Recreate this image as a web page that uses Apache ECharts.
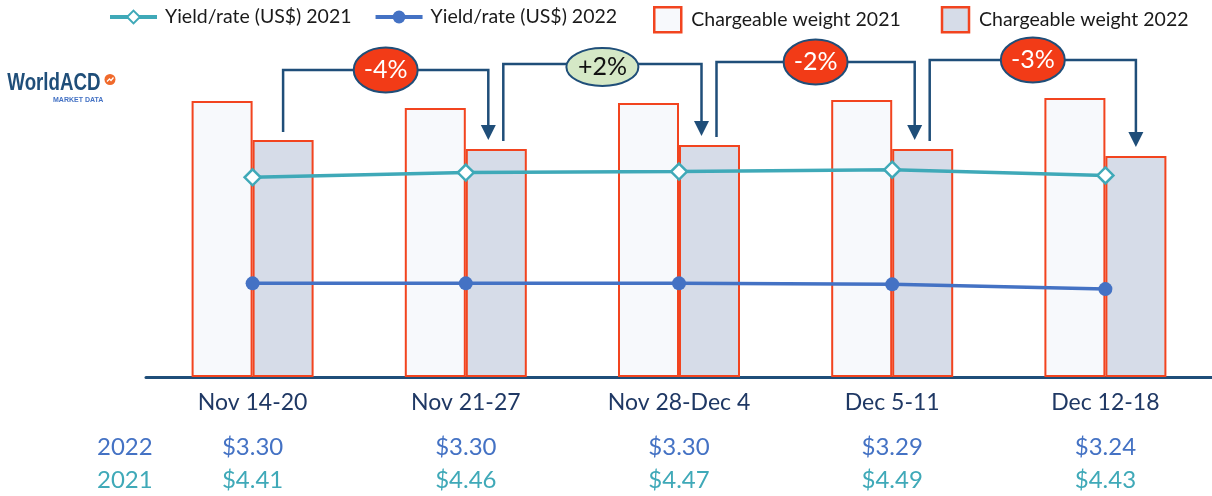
<!DOCTYPE html>
<html>
<head>
<meta charset="utf-8">
<script src="https://cdn.jsdelivr.net/npm/echarts@6/dist/echarts.min.js"></script>
<style>html,body{margin:0;padding:0;background:#fff;}#c{width:1212px;height:496px;}</style>
</head>
<body>
<div id="c"></div>
<script>
// ---- data ----
const categories = ['Nov 14-20', 'Nov 21-27', 'Nov 28-Dec 4', 'Dec 5-11', 'Dec 12-18'];
const weight2021 = [276, 269, 274, 277, 279];
const weight2022 = [237, 228, 232, 228, 221];
const yield2021 = [4.41, 4.46, 4.47, 4.49, 4.43];
const yield2022 = [3.30, 3.30, 3.30, 3.29, 3.24];
const changeLabels = ['-4%', '+2%', '-2%', '-3%'];
const seriesNames = ['Yield/rate (US$) 2021', 'Yield/rate (US$) 2022', 'Chargeable weight 2021', 'Chargeable weight 2022'];
const rowLabels = ['2022', '2021'];

// ---- style ----
const FONT = 'Lato, "Noto Sans", sans-serif';
const NAVY = '#1F4E79';
const TEAL = '#3FA9B8';
const BLUE = '#4472C4';
const RED = '#F2441F';
const BAR_W = 61;
const annotLineY = [70, 64, 62, 60];

const chart = echarts.init(document.getElementById('c'), null, {renderer: 'canvas'});

const option = {
  animation: false,
  backgroundColor: '#ffffff',
  textStyle: {fontFamily: FONT},
  grid: {left: 146, right: 0, top: 77, bottom: 119, containLabel: false},
  legend: [
    {
      data: [
        {name: seriesNames[0], lineStyle: {color: TEAL, width: 4}, itemStyle: {color: '#fff', borderColor: TEAL, borderWidth: 2}},
        {name: seriesNames[1], lineStyle: {color: BLUE, width: 4}, itemStyle: {color: BLUE}}
      ],
      left: 103, top: 2, itemWidth: 47, itemHeight: 16, itemGap: 22,
      textStyle: {fontFamily: FONT, fontSize: 19.5, color: '#1a1a1a', padding: [0, 0, 0, 3]}
    },
    {
      data: [
        {name: seriesNames[2], itemStyle: {color: '#F7F9FC', borderColor: RED, borderWidth: 2.5}},
        {name: seriesNames[3], itemStyle: {color: '#D6DCE8', borderColor: RED, borderWidth: 2.5}}
      ],
      left: 648, top: 1, itemWidth: 27, itemHeight: 25, itemGap: 40,
      icon: 'rect',
      textStyle: {fontFamily: FONT, fontSize: 19.5, color: '#1a1a1a', padding: [0, 0, 0, 5]}
    }
  ],
  xAxis: {
    type: 'category',
    data: categories,
    boundaryGap: true,
    axisLine: {show: true, lineStyle: {color: NAVY, width: 3}},
    axisTick: {show: false},
    axisLabel: {
      margin: 12,
      interval: 0,
      formatter: function (val, idx) {
        return '{c|' + val + '}\n{s| }\n{a|$' + yield2022[idx].toFixed(2) + '}\n{b|$' + yield2021[idx].toFixed(2) + '}';
      },
      rich: {
        c: {fontFamily: FONT, fontSize: 23, color: '#1F3864', lineHeight: 28},
        s: {fontSize: 10, lineHeight: 13.5},
        a: {fontFamily: FONT, fontSize: 24, color: BLUE, lineHeight: 33},
        b: {fontFamily: FONT, fontSize: 24, color: TEAL, lineHeight: 33}
      }
    }
  },
  yAxis: [
    {type: 'value', min: 0, max: 300, show: false, splitLine: {show: false}},
    {type: 'value', min: 2.32, max: 5.46, show: false, splitLine: {show: false}}
  ],
  series: [
    {
      name: seriesNames[2], type: 'bar', yAxisIndex: 0, data: weight2021,
      barWidth: BAR_W, barGap: '0%',
      itemStyle: {color: '#F7F9FC', borderColor: RED, borderWidth: 2}, z: 2
    },
    {
      name: seriesNames[3], type: 'bar', yAxisIndex: 0, data: weight2022,
      barWidth: BAR_W, barGap: '0%',
      itemStyle: {color: '#D6DCE8', borderColor: RED, borderWidth: 2}, z: 2
    },
    {
      name: seriesNames[0], type: 'line', yAxisIndex: 1, data: yield2021,
      symbol: 'diamond', symbolSize: 16, showAllSymbol: true,
      lineStyle: {color: TEAL, width: 3.5},
      itemStyle: {color: '#ffffff', borderColor: TEAL, borderWidth: 2.5}, z: 5
    },
    {
      name: seriesNames[1], type: 'line', yAxisIndex: 1, data: yield2022,
      symbol: 'circle', symbolSize: 14,
      lineStyle: {color: BLUE, width: 3.5},
      itemStyle: {color: BLUE}, z: 5
    }
  ]
};
chart.setOption(option);

// ---- graphics computed from the axes ----
const els = [];
// logo
els.push({type: 'text', x: 6, y: 83, scaleX: 0.78, originX: 6, originY: 83,
  style: {text: 'WorldACD', font: 'bold 24px "Liberation Sans", Arial, sans-serif', fill: NAVY, textVerticalAlign: 'middle'}});
els.push({type: 'circle', shape: {cx: 110, cy: 79.5, r: 5.5}, style: {fill: '#F06A2C'}});
els.push({type: 'polyline', shape: {points: [[107, 81.5], [109.5, 79], [111, 80.5], [113.5, 77.5]]}, style: {stroke: '#fff', lineWidth: 1.3, fill: null}});
els.push({type: 'text', x: 53, y: 100, style: {text: 'MARKET DATA', font: 'bold 7px "Liberation Sans", Arial, sans-serif', fill: BLUE, textVerticalAlign: 'middle'}});
// row labels
els.push({type: 'text', x: 97, y: 447, style: {text: rowLabels[0], font: '24px ' + FONT, fill: BLUE, textVerticalAlign: 'middle'}});
els.push({type: 'text', x: 97, y: 480, style: {text: rowLabels[1], font: '24px ' + FONT, fill: TEAL, textVerticalAlign: 'middle'}});

function barCenter(i, v) {
  const p = chart.convertToPixel({xAxisIndex: 0, yAxisIndex: 0}, [i, v]);
  return [p[0] + BAR_W / 2, p[1]];
}
for (let i = 0; i < changeLabels.length; i++) {
  const a = barCenter(i, weight2022[i]);
  const b = barCenter(i + 1, weight2022[i + 1]);
  const x0 = a[0] + (i === 0 ? 0 : 7);
  const x1 = b[0] - (i + 1 === categories.length - 1 ? 0 : 8);
  const y0 = a[1] - 8;
  const tip = b[1] - 9;
  const LY = annotLineY[i];
  els.push({type: 'polyline', z: 10, shape: {points: [[x0, y0], [x0, LY], [x1, LY], [x1, tip - 12]]},
    style: {stroke: NAVY, lineWidth: 2.5, fill: null}});
  els.push({type: 'polygon', z: 10, shape: {points: [[x1 - 7.5, tip - 15], [x1 + 7.5, tip - 15], [x1, tip]]},
    style: {fill: NAVY}});
  const pos = changeLabels[i].charAt(0) === '+';
  const cx = (x0 + x1) / 2;
  const cy = pos ? LY + 3 : LY;
  els.push({type: 'ellipse', z: 11, shape: {cx: cx, cy: cy, rx: pos ? 36 : 32, ry: pos ? 19 : 22.5},
    style: {fill: pos ? '#D5E8C6' : '#F23B17', stroke: NAVY, lineWidth: 2}});
  els.push({type: 'text', z: 12, x: cx, y: cy, style: {text: changeLabels[i], font: '25px ' + FONT,
    fill: pos ? '#111' : '#fff', textAlign: 'center', textVerticalAlign: 'middle'}});
}
chart.setOption({graphic: {elements: els}});
</script>
</body>
</html>
